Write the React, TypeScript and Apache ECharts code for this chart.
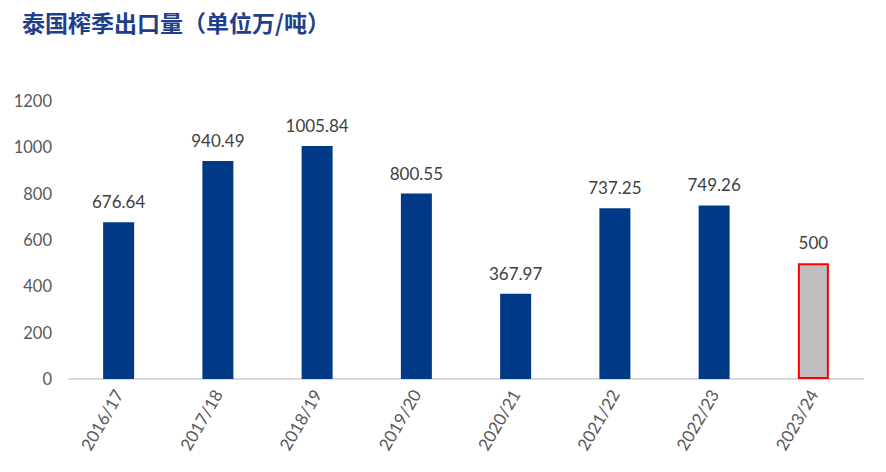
import React, { useEffect, useRef } from "react";
import * as echarts from "echarts";

const categories = ["2016/17", "2017/18", "2018/19", "2019/20", "2020/21", "2021/22", "2022/23", "2023/24"];
const values = [676.64, 940.49, 1005.84, 800.55, 367.97, 737.25, 749.26, 500];
const labels = ["676.64", "940.49", "1005.84", "800.55", "367.97", "737.25", "749.26", "500"];
const forecastIndex = 7;
const yTicks = { min: 0, max: 1200, interval: 200 };
const title = "泰国榨季出口量（单位万/吨）";

export default function App() {
  const ref = useRef<HTMLDivElement>(null);
  useEffect(() => {
    if (!ref.current) return;
    const chart = echarts.init(ref.current, null, { renderer: "svg" });
    const font = "Lato, 'Open Sans', sans-serif";
    chart.setOption({
      animation: false,
      backgroundColor: "#ffffff",
      title: {
        text: title,
        left: 17,
        top: 5,
        textStyle: {
          fontFamily: "'Noto Sans CJK SC', serif",
          fontSize: 23,
          fontWeight: "bold",
          color: "#1f3e8c",
        },
      },
      grid: { left: 69, right: 23, top: 101, bottom: 93, containLabel: false },
      xAxis: {
        type: "category",
        data: categories,
        axisLine: { show: true, lineStyle: { color: "#d9d9d9", width: 2 } },
        axisTick: { show: false },
        axisLabel: {
          rotate: 60,
          color: "#595959",
          fontSize: 17,
          fontFamily: font,
          margin: 12,
          interval: 0,
        },
      },
      yAxis: {
        type: "value",
        min: yTicks.min,
        max: yTicks.max,
        interval: yTicks.interval,
        splitLine: { show: false },
        axisLine: { show: false },
        axisTick: { show: false },
        axisLabel: {
          color: "#595959",
          fontSize: 16.5,
          fontFamily: font,
          margin: 17,
          formatter: (v: number) => String(v),
        },
      },
      series: [
        {
          type: "bar",
          barWidth: 31,
          z: 2,
          data: values.map((v, i) =>
            i === forecastIndex
              ? { value: v, itemStyle: { color: "#bfbfbf", borderColor: "#ff0000", borderWidth: 2 } }
              : { value: v, itemStyle: { color: "#003a86" } }
          ),
          label: {
            show: true,
            position: "top",
            distance: 12,
            color: "#404040",
            fontSize: 17,
            fontFamily: font,
            formatter: (p: any) => labels[p.dataIndex],
          },
        },
      ],
    });
    return () => chart.dispose();
  }, []);
  return <div ref={ref} style={{ width: 886, height: 472, margin: -8 }} />;
}
